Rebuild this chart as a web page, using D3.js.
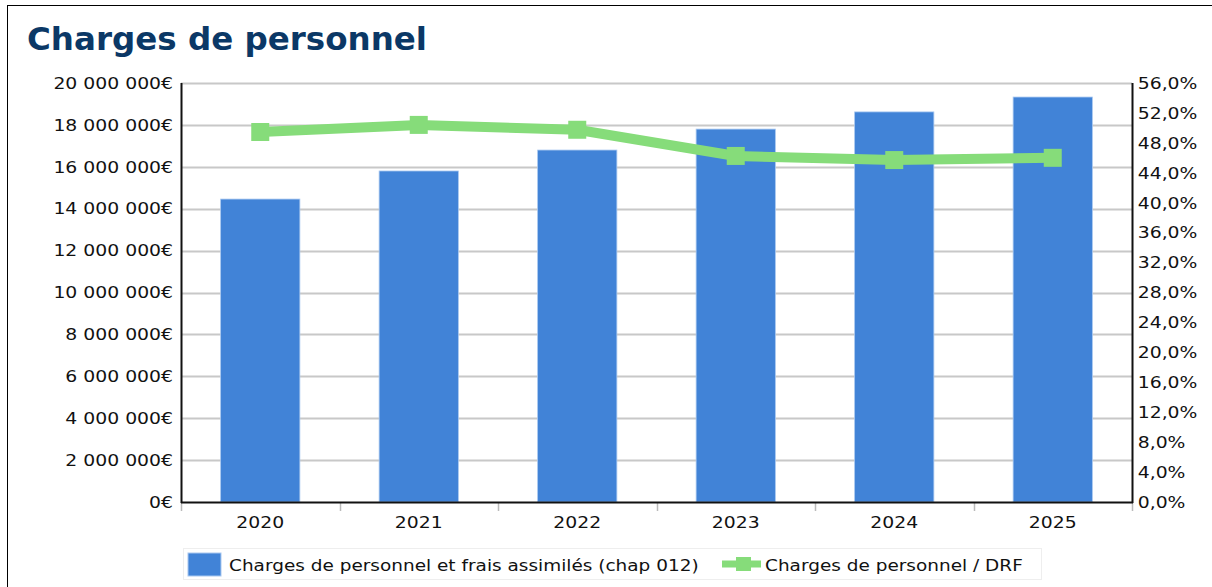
<!DOCTYPE html>
<html>
<head>
<meta charset="utf-8">
<script src="https://cdn.jsdelivr.net/npm/d3@7"></script>
<style>
  body { margin: 0; background: #fff; }
  svg text { font-family: "DejaVu Sans", sans-serif; }
</style>
</head>
<body>
<div id="chart"></div>
<script>
"use strict";

var years = ["2020", "2021", "2022", "2023", "2024", "2025"];
var charges = [14460000, 15800000, 16800000, 17800000, 18620000, 19330000];
var ratio = [49.45, 50.4, 49.75, 46.25, 45.7, 46.0];
var leftTicks = [0, 2e6, 4e6, 6e6, 8e6, 10e6, 12e6, 14e6, 16e6, 18e6, 20e6];
var rightTicks = [0, 4, 8, 12, 16, 20, 24, 28, 32, 36, 40, 44, 48, 52, 56];

var W = 1212, H = 587;
var plot = { left: 181, right: 1132, top: 83, bottom: 502 };
var stretch = "scale(1.14,1)"; // labels in the source look a bit wide

var svg = d3.select("#chart")
  .append("svg")
  .attr("width", W)
  .attr("height", H);

// outer frame
svg.append("rect")
  .attr("x", 7.5).attr("y", 5.5)
  .attr("width", W + 10).attr("height", H + 10)
  .attr("fill", "none")
  .attr("stroke", "#000");

svg.append("text")
  .attr("x", 27).attr("y", 50)
  .attr("font-size", 32.5)
  .attr("font-weight", "bold")
  .attr("fill", "#0b3866")
  .text("Charges de personnel");

var x = d3.scaleBand()
  .domain(years)
  .range([plot.left, plot.right])
  .paddingInner(0.5)
  .paddingOuter(0.25);

var xb = d3.scaleBand().domain(years).range([plot.left, plot.right]);

var yL = d3.scaleLinear().domain([0, 20e6]).range([plot.bottom, plot.top]);
var yR = d3.scaleLinear().domain([0, 56]).range([plot.bottom, plot.top]);

var fmtMoney = function(v) {
  return d3.format(",")(v).replace(/,/g, "\u00a0") + "€";
};
var fmtPct = function(v) {
  return d3.format(".1f")(v).replace(".", ",") + "%";
};

// grid
svg.append("g")
  .selectAll("line")
  .data(leftTicks.slice(1))
  .join("line")
  .attr("x1", plot.left).attr("x2", plot.right)
  .attr("y1", function(d) { return Math.round(yL(d)) + 0.5; })
  .attr("y2", function(d) { return Math.round(yL(d)) + 0.5; })
  .attr("stroke", "#c8c8c8")
  .attr("stroke-width", 2);

// bars
svg.append("g")
  .selectAll("rect")
  .data(years)
  .join("rect")
  .attr("x", function(d) { return x(d); })
  .attr("y", function(d, i) { return yL(charges[i]); })
  .attr("width", x.bandwidth())
  .attr("height", function(d, i) { return plot.bottom - yL(charges[i]); })
  .attr("fill", "#4183d7")
  .attr("stroke", "#a9c8f0")
  .attr("stroke-width", 0.8);

function styleTicks(g) {
  g.select(".domain").remove();
  g.selectAll("text")
    .attr("font-size", 16.5)
    .attr("fill", "#111")
    .attr("font-family", "DejaVu Sans")
    .attr("transform", stretch);
}

// axes
var leftAxis = d3.axisLeft(yL).tickValues(leftTicks).tickFormat(fmtMoney).tickSize(0).tickPadding(7);
svg.append("g").attr("transform", "translate(" + plot.left + ",0)").call(leftAxis).call(styleTicks);

var rightAxis = d3.axisRight(yR).tickValues(rightTicks).tickFormat(fmtPct).tickSize(0).tickPadding(5);
svg.append("g").attr("transform", "translate(" + plot.right + ",0)").call(rightAxis).call(styleTicks);

var bottomAxis = d3.axisBottom(xb).tickSize(0).tickPadding(14);
svg.append("g").attr("transform", "translate(0," + plot.bottom + ")").call(bottomAxis).call(styleTicks);

// category separators
svg.append("g")
  .selectAll("line")
  .data(years.concat(["end"]))
  .join("line")
  .attr("x1", function(d, i) { return Math.round(plot.left + i * xb.bandwidth()) + 0.5; })
  .attr("x2", function(d, i) { return Math.round(plot.left + i * xb.bandwidth()) + 0.5; })
  .attr("y1", plot.bottom)
  .attr("y2", plot.bottom + 9)
  .attr("stroke", "#bbb")
  .attr("stroke-width", 1.5);

// axis lines
svg.append("line")
  .attr("x1", plot.left + 0.5).attr("x2", plot.left + 0.5)
  .attr("y1", plot.top).attr("y2", plot.bottom + 1)
  .attr("stroke", "#111").attr("stroke-width", 2);
svg.append("line")
  .attr("x1", plot.right + 0.5).attr("x2", plot.right + 0.5)
  .attr("y1", plot.top).attr("y2", plot.bottom + 1)
  .attr("stroke", "#111").attr("stroke-width", 2);
svg.append("line")
  .attr("x1", plot.left).attr("x2", plot.right + 1)
  .attr("y1", plot.bottom + 0.5).attr("y2", plot.bottom + 0.5)
  .attr("stroke", "#111").attr("stroke-width", 2);

// ratio line
var cx = function(d) { return xb(d) + xb.bandwidth() / 2; };
var line = d3.line()
  .x(function(d) { return cx(d); })
  .y(function(d, i) { return yR(ratio[i]); });

svg.append("path")
  .datum(years)
  .attr("d", line)
  .attr("fill", "none")
  .attr("stroke", "#86dc7a")
  .attr("stroke-width", 10)
  .attr("stroke-linejoin", "round");

svg.append("g")
  .selectAll("rect")
  .data(years)
  .join("rect")
  .attr("x", function(d) { return cx(d) - 9; })
  .attr("y", function(d, i) { return yR(ratio[i]) - 9; })
  .attr("width", 18).attr("height", 18)
  .attr("fill", "#86dc7a");

// legend
var lg = svg.append("g");
lg.append("rect")
  .attr("x", 183.5).attr("y", 548.5)
  .attr("width", 858).attr("height", 31)
  .attr("fill", "#fff")
  .attr("stroke", "#eee");
lg.append("rect")
  .attr("x", 188).attr("y", 553)
  .attr("width", 33).attr("height", 23)
  .attr("fill", "#4183d7")
  .attr("stroke", "#a9c8f0");
lg.append("text")
  .attr("transform", "translate(229,571) scale(1.12,1)")
  .attr("font-size", 16.5).attr("fill", "#111")
  .text("Charges de personnel et frais assimilés (chap 012)");
lg.append("line")
  .attr("x1", 722).attr("x2", 761)
  .attr("y1", 564).attr("y2", 564)
  .attr("stroke", "#86dc7a").attr("stroke-width", 7);
lg.append("rect")
  .attr("x", 736).attr("y", 557)
  .attr("width", 15).attr("height", 14)
  .attr("fill", "#86dc7a");
lg.append("text")
  .attr("transform", "translate(765,571) scale(1.12,1)")
  .attr("font-size", 16.5).attr("fill", "#111")
  .text("Charges de personnel / DRF");
</script>
</body>
</html>
